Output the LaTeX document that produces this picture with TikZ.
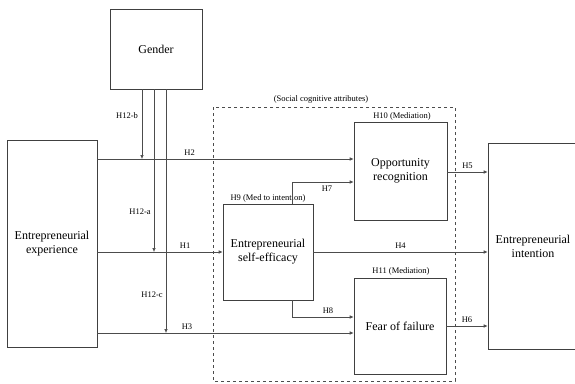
\documentclass[tikz,border=0pt]{standalone}
\usepackage{fontspec}
\setmainfont{Liberation Serif}
\usetikzlibrary{arrows.meta}
\tikzset{
  box/.style={draw=black!75, line width=0.6pt, align=center, inner sep=0pt,
    font=\fontsize{12}{14}\selectfont},
  hyp/.style={font=\fontsize{8.5}{10}\selectfont, inner sep=0pt},
  link/.style={draw=black!70, line width=0.6pt, -{Latex[length=4pt,width=3.5pt]}},
  plain/.style={draw=black!70, line width=0.6pt}
}
\begin{document}
\begin{tikzpicture}[x=1pt,y=-1pt]
\useasboundingbox (0,0) rectangle (575,383);
\clip (0,0) rectangle (575,383);
% boxes
\node[box, minimum width=92, minimum height=80] (gender) at (156,49) {Gender};
\node[box, minimum width=90, minimum height=207] (exper) at (52,243.5) {Entrepreneurial\\experience};
\node[box, minimum width=93, minimum height=98] (oppr) at (400.5,171) {Opportunity\\recognition};
\node[box, minimum width=90, minimum height=96] (selfeff) at (268,252) {Entrepreneurial\\self-efficacy};
\node[box, minimum width=92, minimum height=96] (fear) at (400,326) {Fear of failure};
\node[box, minimum width=90, minimum height=206] (intent) at (533,246) {Entrepreneurial\\intention};
% dashed group
\draw [black!70, dashed, line width=0.6pt] (213,107) rectangle (455,381);
\node[hyp] (social) at (321,99) {(Social cognitive attributes)};
\node[hyp] (lab9) at (268,198) {H9 (Med to intention)};
\node[hyp] (lab10) at (402,116) {H10 (Mediation)};
\node[hyp] (lab11) at (401,271) {H11 (Mediation)};
% direct paths
\draw [link] (exper.east |- 0,159) -- (oppr.west |- 0,159) node (h2) [hyp, pos=0.36, above=3pt] {H2};
\draw [link] (exper.east |- selfeff.west) -- (selfeff.west) node (h1) [hyp, pos=0.7, above=3pt] {H1};
\draw [link] (exper.east |- 0,333) -- (fear.west |- 0,333) node (h3) [hyp, pos=0.35, above=3pt] {H3};
\draw [link] (selfeff.north -| 292,0) |- (oppr.west |- 0,182);
\node[hyp] (h7) at (327,189) {H7};
\draw [link] (selfeff.south -| 292,0) |- (fear.west |- 0,317);
\node[hyp] (h8) at (328,311) {H8};
\draw [link] (selfeff.east) -- (intent.west |- selfeff.east) node (h4) [hyp, midway, above=3pt] {H4};
\draw [link] (oppr.east |- 0,172) -- (intent.west |- 0,172) node (h5) [hyp, midway, above=3pt] {H5};
\draw [link] (fear.east |- 0,326) -- (intent.west |- 0,326) node (h6) [hyp, midway, above=3pt] {H6};
% moderation by gender
\draw [link] (gender.south -| 142,0) -- (142,159);
\draw [link] (gender.south -| 154,0) -- (154,252);
\draw [link] (gender.south -| 166,0) -- (166,333);
\node[hyp] (h12b) at (127,116) {H12-b};
\node[hyp] (h12a) at (140,212) {H12-a};
\node[hyp] (h12c) at (152,295) {H12-c};
\end{tikzpicture}
\end{document}
